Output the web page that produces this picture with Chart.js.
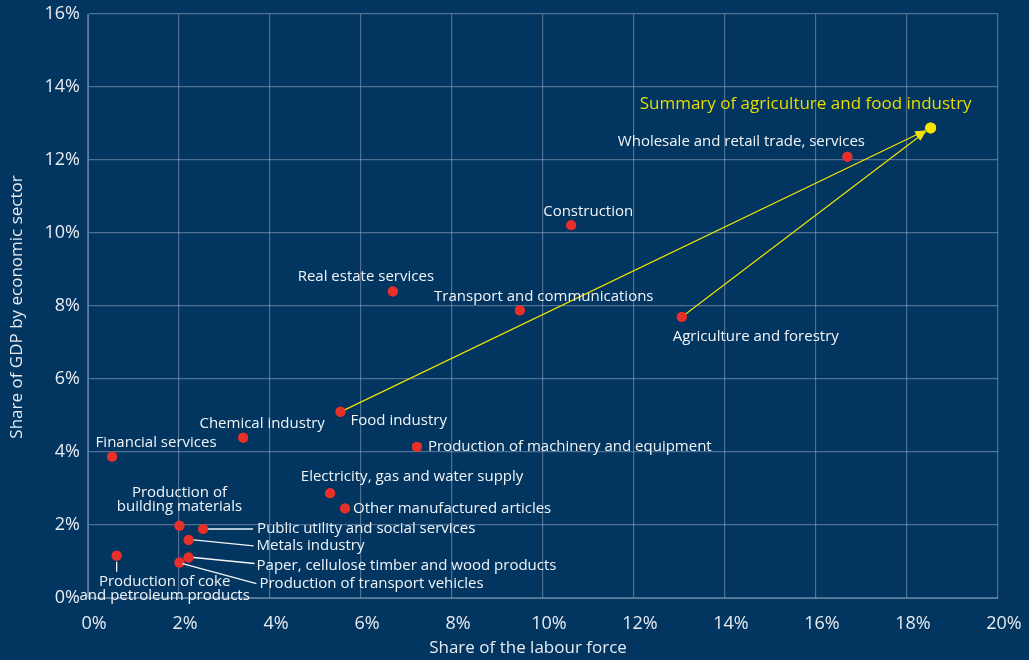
<!DOCTYPE html>
<html>
<head>
<meta charset="utf-8">
<style>
  html, body { margin: 0; padding: 0; background: #02355f; }
  .wrap { width: 1029px; height: 660px; position: relative; }
</style>
<script src="https://cdn.jsdelivr.net/npm/chart.js@4"></script>
</head>
<body>
<div class="wrap"><canvas id="chart"></canvas></div>
<script>
// values (share in %)
const sectors = [
  'Wholesale and retail trade, services', 'Construction', 'Real estate services',
  'Transport and communications', 'Agriculture and forestry', 'Food industry',
  'Chemical industry', 'Financial services', 'Production of machinery and equipment',
  'Electricity, gas and water supply', 'Other manufactured articles',
  'Production of building materials', 'Public utility and social services',
  'Metals industry', 'Paper, cellulose timber and wood products',
  'Production of transport vehicles', 'Production of coke and petroleum products'
];
const labourShare = [16.69, 10.62, 6.70, 9.49, 13.05, 5.55, 3.41, 0.53, 7.23, 5.32, 5.65, 2.01, 2.53, 2.21, 2.21, 2.01, 0.63];
const gdpShare    = [12.09, 10.21, 8.40, 7.88, 7.70, 5.10, 4.39, 3.87, 4.14, 2.87, 2.45, 1.98, 1.89, 1.59, 1.11, 0.97, 1.16];

const summaryName = 'Summary of agriculture and food industry';
const summaryLabour = [18.52];
const summaryGdp = [12.88];
const summaryParts = ['Food industry', 'Agriculture and forestry'];

const xTicks = [0, 2, 4, 6, 8, 10, 12, 14, 16, 18, 20];
const yTicks = [0, 2, 4, 6, 8, 10, 12, 14, 16];
const xTitle = 'Share of the labour force';
const yTitle = 'Share of GDP by economic sector';

// label placement relative to the dot (pixels)
const labelLayout = {
  'Wholesale and retail trade, services': { dx: -106, dy: -15, align: 'center' },
  'Construction': { dx: 17, dy: -14, align: 'center' },
  'Real estate services': { dx: -27, dy: -15, align: 'center' },
  'Transport and communications': { dx: 24, dy: -14, align: 'center' },
  'Agriculture and forestry': { dx: 74, dy: 20, align: 'center' },
  'Food industry': { dx: 10, dy: 9, align: 'left' },
  'Chemical industry': { dx: 19, dy: -14, align: 'center' },
  'Financial services': { dx: 44, dy: -14, align: 'center' },
  'Production of machinery and equipment': { dx: 11, dy: 0, align: 'left' },
  'Electricity, gas and water supply': { dx: 82, dy: -17, align: 'center' },
  'Other manufactured articles': { dx: 8, dy: 0, align: 'left' },
  'Production of building materials': { dx: 0, dy: -33, align: 'center', lines: ['Production of', 'building materials'] },
  'Public utility and social services': { dx: 54, dy: 0, align: 'left', lead: [5, 0, 50, 0] },
  'Metals industry': { dx: 68, dy: 6, align: 'left', lead: [5, 0, 65, 6] },
  'Paper, cellulose timber and wood products': { dx: 68, dy: 8, align: 'left', lead: [5, 0, 66, 6] },
  'Production of transport vehicles': { dx: 80, dy: 21, align: 'left', lead: [3, 1, 77, 21] },
  'Production of coke and petroleum products': { dx: 48, dy: 26, align: 'center', lines: ['Production of coke', 'and petroleum products'], lead: [0, 6, 0, 16] }
};

const labelFont = '15px "Open Sans", sans-serif';

const annotate = {
  id: 'annotate',
  afterDatasetsDraw(chart) {
    const ctx = chart.ctx;
    const xs = chart.scales.x, ys = chart.scales.y;
    const sx = xs.getPixelForValue(summaryLabour[0]);
    const sy = ys.getPixelForValue(summaryGdp[0]);
    ctx.save();

    // arrows into the summary point
    ctx.strokeStyle = '#f2e400';
    ctx.fillStyle = '#f2e400';
    ctx.lineWidth = 1.2;
    summaryParts.forEach(name => {
      const i = sectors.indexOf(name);
      const px = xs.getPixelForValue(labourShare[i]);
      const py = ys.getPixelForValue(gdpShare[i]);
      const ang = Math.atan2(sy - py, sx - px);
      const ex = sx - Math.cos(ang) * 6, ey = sy - Math.sin(ang) * 6;
      ctx.beginPath();
      ctx.moveTo(px, py);
      ctx.lineTo(ex, ey);
      ctx.stroke();
      const hl = 10, hw = 4;
      ctx.beginPath();
      ctx.moveTo(ex, ey);
      ctx.lineTo(ex - Math.cos(ang) * hl - Math.sin(ang) * hw, ey - Math.sin(ang) * hl + Math.cos(ang) * hw);
      ctx.lineTo(ex - Math.cos(ang) * hl + Math.sin(ang) * hw, ey - Math.sin(ang) * hl - Math.cos(ang) * hw);
      ctx.closePath();
      ctx.fill();
    });

    // redraw dots on top of the arrow lines
    chart.getDatasetMeta(0).data.forEach(el => el.draw(ctx));
    chart.getDatasetMeta(1).data.forEach(el => el.draw(ctx));

    ctx.font = '17px "Open Sans", sans-serif';
    ctx.textAlign = 'center';
    ctx.textBaseline = 'middle';
    ctx.fillStyle = '#e8dc00';
    ctx.fillText(summaryName, sx - 125, sy - 24);

    ctx.font = labelFont;
    ctx.fillStyle = '#f2f5f8';
    ctx.strokeStyle = '#f2f5f8';
    ctx.lineWidth = 1.3;
    sectors.forEach((name, i) => {
      const lay = labelLayout[name];
      const px = xs.getPixelForValue(labourShare[i]);
      const py = ys.getPixelForValue(gdpShare[i]);
      if (lay.lead) {
        ctx.beginPath();
        ctx.moveTo(px + lay.lead[0], py + lay.lead[1]);
        ctx.lineTo(px + lay.lead[2], py + lay.lead[3]);
        ctx.stroke();
      }
      ctx.textAlign = lay.align;
      const lines = lay.lines || [name];
      lines.forEach((t, k) => ctx.fillText(t, px + lay.dx, py + lay.dy + k * 14.5));
    });

    // axis titles
    ctx.font = '17px "Open Sans", sans-serif';
    ctx.fillStyle = '#e6ecf2';
    ctx.textAlign = 'center';
    ctx.fillText(xTitle, 528, 648);
    ctx.translate(17, 307);
    ctx.rotate(-Math.PI / 2);
    ctx.fillText(yTitle, 0, 0);
    ctx.restore();
  }
};

new Chart(document.getElementById('chart'), {
  type: 'scatter',
  data: {
    datasets: [
      {
        label: 'Sectors',
        data: labourShare.map((v, i) => ({ x: v, y: gdpShare[i] })),
        backgroundColor: '#e8302b',
        borderWidth: 0,
        pointRadius: 5
      },
      {
        label: summaryName,
        data: summaryLabour.map((v, i) => ({ x: v, y: summaryGdp[i] })),
        backgroundColor: '#f5e600',
        borderWidth: 0,
        pointRadius: 5.5
      }
    ]
  },
  options: {
    responsive: true,
    maintainAspectRatio: false,
    animation: false,
    events: [],
    layout: { padding: { left: 0, right: 31, top: 14, bottom: 0 } },
    plugins: { legend: { display: false }, tooltip: { enabled: false } },
    scales: {
      x: {
        type: 'linear', min: 0, max: 20,
        afterFit: s => { s.height = 62; s.paddingLeft = 0; s.paddingRight = 0; },
        afterBuildTicks: s => { s.ticks = xTicks.map(v => ({ value: v })); },
        grid: { color: 'rgba(170,185,210,0.45)', lineWidth: 1.2, drawTicks: false },
        border: { color: 'rgba(170,185,210,0.5)' },
        ticks: { color: '#e6ecf2', font: { family: 'Open Sans', size: 18 }, padding: 15, labelOffset: 6, callback: v => v + '%' }
      },
      y: {
        type: 'linear', min: 0, max: 16,
        afterFit: s => { s.width = 88; s.paddingTop = 0; s.paddingBottom = 0; },
        afterBuildTicks: s => { s.ticks = yTicks.map(v => ({ value: v })); },
        grid: { color: 'rgba(170,185,210,0.45)', lineWidth: 1.2, drawTicks: false },
        border: { color: 'rgba(170,185,210,0.5)' },
        ticks: { color: '#e6ecf2', font: { family: 'Open Sans', size: 18 }, padding: 8, callback: v => v + '%' }
      }
    }
  },
  plugins: [annotate]
});
</script>
</body>
</html>
